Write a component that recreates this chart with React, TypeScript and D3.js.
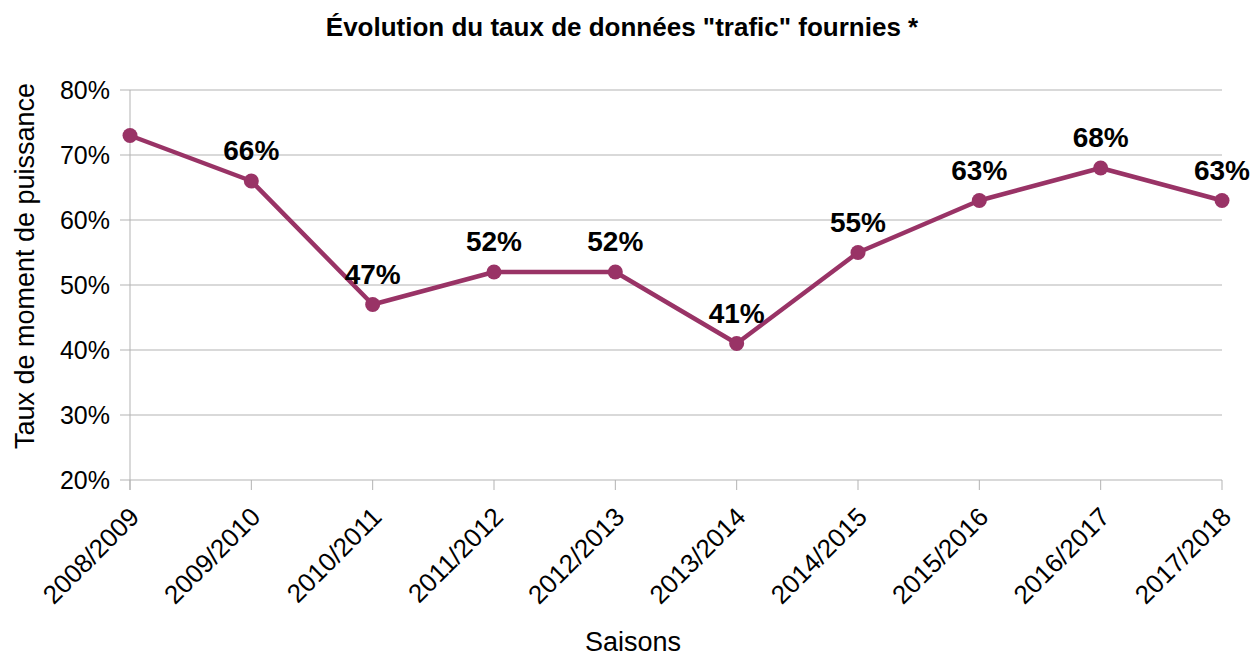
import React, { useEffect, useRef } from "react";
import * as d3 from "d3";

const seasons = [
  "2008/2009", "2009/2010", "2010/2011", "2011/2012", "2012/2013",
  "2013/2014", "2014/2015", "2015/2016", "2016/2017", "2017/2018",
];
const rates = [73, 66, 47, 52, 52, 41, 55, 63, 68, 63];
const showLabel = [false, true, true, true, true, true, true, true, true, true];
const yTicks = [20, 30, 40, 50, 60, 70, 80];

const W = 1255, H = 658;
const margin = { top: 90, right: 33, bottom: 178, left: 130 };
const color = "#993366";
const font = "'Liberation Sans', Arial, sans-serif";

export default function App() {
  const ref = useRef<SVGSVGElement>(null);

  useEffect(() => {
    const svg = d3.select(ref.current);
    svg.selectAll("*").remove();
    const w = W - margin.left - margin.right;
    const h = H - margin.top - margin.bottom;

    const x = d3.scalePoint<string>().domain(seasons).range([0, w]);
    const y = d3.scaleLinear().domain([20, 80]).range([h, 0]);

    const g = svg.append("g").attr("transform", `translate(${margin.left},${margin.top})`);

    // horizontal grid + y ticks
    g.selectAll(".grid").data(yTicks).join("line")
      .attr("x1", -10).attr("x2", w)
      .attr("y1", d => y(d)).attr("y2", d => y(d))
      .attr("stroke", "#b3b3b3").attr("stroke-width", 1);

    g.selectAll(".ylab").data(yTicks).join("text")
      .attr("x", -20).attr("y", d => y(d)).attr("dy", "0.36em")
      .attr("text-anchor", "end").style("font-family", font).style("font-size", "25px")
      .attr("fill", "#000").text(d => d + "%");

    // y axis line
    g.append("line").attr("x1", 0).attr("x2", 0).attr("y1", 0).attr("y2", h + 10)
      .attr("stroke", "#b3b3b3");

    // x ticks
    g.selectAll(".xtick").data(seasons).join("line")
      .attr("x1", d => x(d)!).attr("x2", d => x(d)!)
      .attr("y1", h).attr("y2", h + 10)
      .attr("stroke", "#b3b3b3");

    g.selectAll(".xlab").data(seasons).join("text")
      .attr("transform", d => `translate(${x(d)! + 4},${h + 32}) rotate(-45)`)
      .attr("text-anchor", "end").attr("dy", "0.36em")
      .style("font-family", font).style("font-size", "26px").attr("fill", "#000")
      .text(d => d);

    const line = d3.line<number>().x((d, i) => x(seasons[i])!).y(d => y(d));
    g.append("path").datum(rates).attr("d", line)
      .attr("fill", "none").attr("stroke", color).attr("stroke-width", 4.5)
      .attr("stroke-linejoin", "round");

    g.selectAll(".dot").data(rates).join("circle")
      .attr("cx", (d, i) => x(seasons[i])!).attr("cy", d => y(d)).attr("r", 7.5)
      .attr("fill", color);

    g.selectAll(".vlab").data(rates.map((v, i) => ({ v, i })).filter(d => showLabel[d.i])).join("text")
      .attr("x", d => x(seasons[d.i])!).attr("y", d => y(d.v) - 21)
      .attr("text-anchor", "middle").style("font-family", font).style("font-size", "28px")
      .style("font-weight", "bold").attr("fill", "#000")
      .text(d => d.v + "%");

    svg.append("text").attr("x", 622).attr("y", 36).attr("text-anchor", "middle")
      .style("font-family", font).style("font-size", "26px").style("font-weight", "bold")
      .text('Évolution du taux de données "trafic" fournies *');

    svg.append("text").attr("x", 633).attr("y", 651).attr("text-anchor", "middle")
      .style("font-family", font).style("font-size", "27px")
      .text("Saisons");

    svg.append("text").attr("transform", `translate(34,266) rotate(-90)`)
      .attr("text-anchor", "middle")
      .style("font-family", font).style("font-size", "27px")
      .text("Taux de moment de puissance");
  }, []);

  return (
    <svg ref={ref} width={W} height={H}
      style={{ position: "absolute", left: 0, top: 0, background: "#fff" }} />
  );
}
